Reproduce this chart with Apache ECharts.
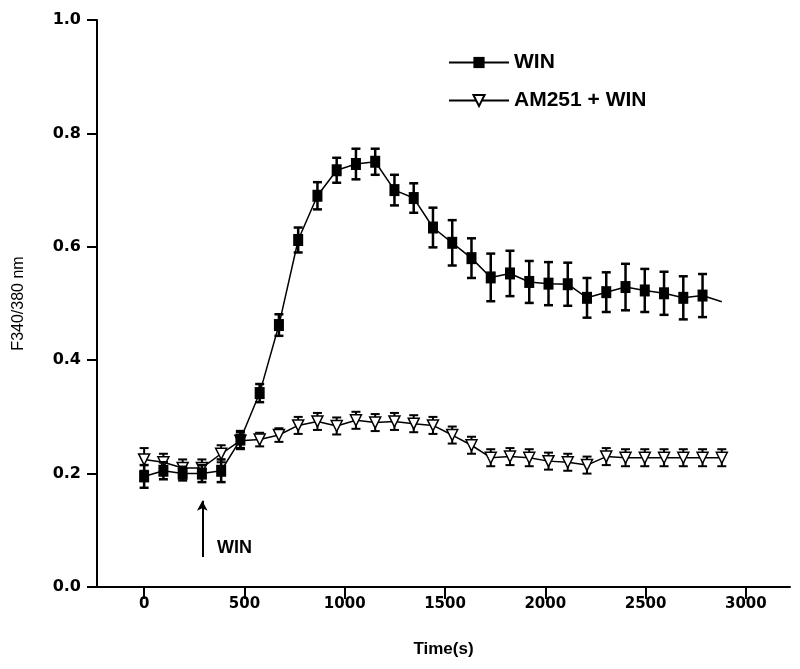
<!DOCTYPE html>
<html>
<head>
<meta charset="utf-8">
<script src="https://cdn.jsdelivr.net/npm/echarts@6/dist/echarts.min.js"></script>
<style>
html,body{margin:0;padding:0;background:#fff;}
#main{width:800px;height:669px;}
</style>
</head>
<body>
<div id="main"></div>
<script>
// time points (s)
var times = [0,96,192,288,384,480,576,672,768,864,960,1056,1152,1248,1344,1440,1536,1632,1728,1824,1920,2016,2112,2208,2304,2400,2496,2592,2688,2784,2880];
// WIN
var winMean = [0.195,0.205,0.20,0.20,0.205,0.26,0.342,0.462,0.612,0.69,0.735,0.746,0.75,0.70,0.686,0.634,0.607,0.58,0.546,0.553,0.538,0.535,0.534,0.51,0.52,0.529,0.523,0.518,0.51,0.514,0.503];
var winErr = [0.02,0.015,0.012,0.015,0.02,0.015,0.016,0.019,0.022,0.024,0.022,0.027,0.023,0.027,0.026,0.035,0.04,0.035,0.042,0.04,0.037,0.038,0.038,0.035,0.035,0.041,0.038,0.038,0.038,0.038,0];
// AM251 + WIN
var amMean = [0.225,0.22,0.21,0.21,0.235,0.258,0.26,0.268,0.285,0.292,0.284,0.294,0.29,0.292,0.288,0.285,0.268,0.25,0.228,0.23,0.228,0.222,0.22,0.215,0.23,0.228,0.228,0.228,0.228,0.228,0.228];
var amErr = [0.02,0.015,0.015,0.015,0.015,0.015,0.012,0.012,0.015,0.015,0.015,0.015,0.015,0.015,0.015,0.015,0.015,0.015,0.015,0.015,0.015,0.015,0.015,0.015,0.015,0.015,0.015,0.015,0.015,0.015,0.015];
var xTicks = [0,500,1000,1500,2000,2500,3000];
var yTicks = [0,0.2,0.4,0.6,0.8,1.0];

var myChart = echarts.init(document.getElementById('main'));

function pts(mean){
	var d = [];
	for(var i=0;i<times.length;i++){
		d.push([times[i],mean[i]]);
	}
	return d;
}
function bars(mean,err){
	var d = [];
	for(var i=0;i<times.length;i++){
		if(err[i]>0) d.push([times[i],mean[i]-err[i],mean[i]+err[i]]);
	}
	return d;
}
//error bar: vertical line plus two caps
function errItem(w){
	return function(params,api){
		var lo = api.coord([api.value(0),api.value(1)]);
		var hi = api.coord([api.value(0),api.value(2)]);
		var c = 4.5;
		var st = {stroke:'#000',lineWidth:w};
		return {type:'group',children:[
			{type:'line',shape:{x1:lo[0],y1:lo[1],x2:hi[0],y2:hi[1]},style:st},
			{type:'line',shape:{x1:lo[0]-c,y1:lo[1],x2:lo[0]+c,y2:lo[1]},style:st},
			{type:'line',shape:{x1:hi[0]-c,y1:hi[1],x2:hi[0]+c,y2:hi[1]},style:st}
		]};
	}
}

var winData = pts(winMean);
// last WIN point drawn without a marker
winData[winData.length-1] = {value:winData[winData.length-1],symbol:'none'};

var option = {
	animation:false,
	grid:{left:97,right:10,top:20,bottom:82},
	legend:{
		data:['WIN','AM251 + WIN'],
		orient:'vertical',
		left:443,
		top:47,
		itemWidth:60,
		itemHeight:14,
		itemGap:17,
		textStyle:{fontFamily:'Liberation Sans',fontWeight:'bold',fontSize:21,color:'#000'}
	},
	xAxis:{
		type:'value',
		min:-235,
		max:3220,
		name:'Time(s)',
		nameLocation:'middle',
		nameGap:54,
		nameTextStyle:{fontFamily:'Liberation Sans',fontWeight:'bold',fontSize:17,color:'#000'},
		axisLine:{onZero:false,lineStyle:{color:'#000',width:2}},
		axisTick:{customValues:xTicks,length:12,lineStyle:{color:'#000',width:2}},
		axisLabel:{customValues:xTicks,margin:10,fontFamily:'DejaVu Sans',fontWeight:'bold',fontSize:15,color:'#000',
			formatter:function(v){return String(v);}},
		splitLine:{show:false}
	},
	yAxis:{
		type:'value',
		min:0,
		max:1,
		interval:0.2,
		name:'F340/380 nm',
		nameLocation:'middle',
		nameGap:70,
		nameTextStyle:{fontFamily:'Liberation Sans',fontSize:16,color:'#000'},
		axisLine:{show:true,onZero:false,lineStyle:{color:'#000',width:2}},
		axisTick:{show:true,length:10,lineStyle:{color:'#000',width:2}},
		axisLabel:{margin:16,fontFamily:'DejaVu Sans',fontWeight:'bold',fontSize:16,color:'#000',
			formatter:function(v){return v.toFixed(1);}},
		splitLine:{show:false}
	},
	graphic:[
		{type:'text',left:217,top:539,style:{text:'WIN',fontFamily:'Liberation Sans',fontWeight:'bold',fontSize:18,fill:'#000'}}
	],
	series:[
		{
			name:'AM251 + WIN err',
			type:'custom',
			renderItem:errItem(2),
			data:bars(amMean,amErr),
			z:2
		},
		{
			name:'AM251 + WIN',
			type:'line',
			data:pts(amMean),
			symbol:'triangle',
			symbolRotate:180,
			symbolSize:11,
			lineStyle:{color:'#000',width:1.5},
			itemStyle:{color:'#fff',borderColor:'#000',borderWidth:1.5},
			z:3
		},
		{
			name:'WIN err',
			type:'custom',
			renderItem:errItem(2.5),
			data:bars(winMean,winErr),
			z:4
		},
		{
			name:'WIN',
			type:'line',
			data:winData,
			symbol:'rect',
			symbolSize:[10,12],
			lineStyle:{color:'#000',width:1.5},
			itemStyle:{color:'#000'},
			z:5,
			markLine:{
				silent:true,
				symbol:['none','arrow'],
				symbolSize:[8,10],
				label:{show:false},
				lineStyle:{color:'#000',width:2,type:'solid'},
				data:[[{coord:[290,0.053]},{coord:[290,0.152]}]]
			}
		}
	]
};
myChart.setOption(option);
</script>
</body>
</html>
